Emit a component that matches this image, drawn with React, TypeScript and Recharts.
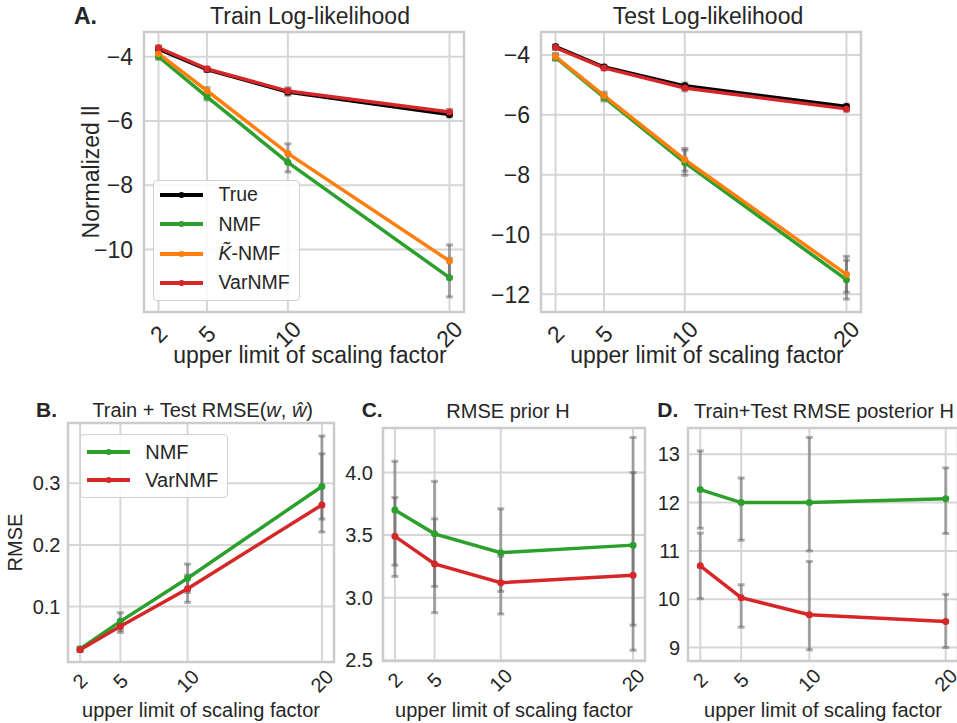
import React from 'react';
import { LineChart, Line, XAxis, YAxis, CartesianGrid, ErrorBar, ReferenceArea, Legend, Label } from 'recharts';

const FONT = '"Liberation Sans", Arial, Helvetica, sans-serif';
const TXT = '#262626';
const GRID = '#d6d6d6';
const SPINE = '#cccccc';
const C_TRUE = '#000000';
const C_NMF = '#2ca02c';
const C_K = '#ff7f0e';
const C_VAR = '#d62728';

// x categories (upper limit of scaling factor)
const xs = [2, 5, 10, 20];

// A. Train log-likelihood
const trainTrue = [-3.76, -4.4, -5.1, -5.8];
const trainNMF = [-4.0, -5.25, -7.29, -10.88];
const trainKNMF = [-3.9, -5.06, -7.01, -10.36];
const trainVar = [-3.72, -4.38, -5.07, -5.72];
const trainTrueErr = [0.06, 0.06, 0.1, 0.08];
const trainNMFErr = [0.08, 0.1, 0.3, 0.6];
const trainKNMFErr = [0.08, 0.1, 0.3, 0.5];
const trainVarErr = [0.06, 0.06, 0.1, 0.08];

// A. Test log-likelihood
const testTrue = [-3.72, -4.4, -5.03, -5.72];
const testNMF = [-4.08, -5.42, -7.6, -11.51];
const testKNMF = [-4.05, -5.36, -7.5, -11.33];
const testVar = [-3.75, -4.43, -5.1, -5.8];
const testTrueErr = [0.06, 0.06, 0.1, 0.08];
const testNMFErr = [0.1, 0.12, 0.42, 0.65];
const testKNMFErr = [0.1, 0.12, 0.38, 0.6];
const testVarErr = [0.06, 0.06, 0.1, 0.08];

// B. RMSE(w, w-hat)
const rmseWNMF = [0.031, 0.076, 0.146, 0.295];
const rmseWNMFLo = [0.003, 0.014, 0.023, 0.053];
const rmseWNMFHi = [0.003, 0.014, 0.023, 0.053];
const rmseWVar = [0.03, 0.068, 0.129, 0.265];
const rmseWVarLo = [0.003, 0.01, 0.022, 0.044];
const rmseWVarHi = [0.003, 0.01, 0.022, 0.112];

// C. RMSE prior H
const priorNMF = [3.7, 3.51, 3.36, 3.42];
const priorNMFLo = [0.44, 0.42, 0.31, 0.84];
const priorNMFHi = [0.39, 0.42, 0.35, 0.86];
const priorVar = [3.49, 3.27, 3.12, 3.18];
const priorVarLo = [0.32, 0.39, 0.25, 0.4];
const priorVarHi = [0.31, 0.36, 0.21, 0.82];

// D. RMSE posterior H
const postNMF = [12.27, 12.0, 12.0, 12.08];
const postNMFLo = [0.8, 0.78, 1.0, 0.72];
const postNMFHi = [0.8, 0.51, 1.35, 0.64];
const postVar = [10.69, 10.03, 9.68, 9.54];
const postVarLo = [0.68, 0.61, 0.73, 0.54];
const postVarHi = [0.68, 0.27, 1.1, 0.56];

// tick labels
const ticksA1 = [-10, -8, -6, -4];
const ticksA2 = [-12, -10, -8, -6, -4];
const ticksB = [0.1, 0.2, 0.3];
const ticksC = [2.5, 3.0, 3.5, 4.0];
const ticksD = [9, 10, 11, 12, 13];

type S = { key: string; label: React.ReactNode; color: string; values: number[]; lo: number[]; hi: number[] };

const kLabel = (
  <span>
    <span style={{ fontStyle: 'italic' }}>{'K\u0303'}</span>-NMF
  </span>
);

const buildRows = (series: S[]) =>
  xs.map((x, i) => {
    const row: any = { x };
    series.forEach((s) => {
      row[s.key] = s.values[i];
      row[s.key + 'Err'] = [s.lo[i], s.hi[i]];
    });
    return row;
  });

const minus = (v: number) => String(v).replace('-', '\u2212');

type PanelProps = {
  left: number; top: number; yw: number; pw: number; mr: number; mt: number; ph: number; xh: number;
  yDomain: [number, number]; yTicks: number[]; fmt: (v: number) => string; fs: number; yMargin: number;
  series: S[]; xTickOff: number; xLabelDy: number; xLabelDx: number;
  yLabel?: string; yLabelX?: number;
  legend?: { left: number; top: number; w: number; h: number; fs: number; rowH: number; padT: number; padL: number; sw: number; gap: number };
};

const Panel = (p: PanelProps) => {
  const rows = buildRows(p.series);
  const width = p.yw + p.pw + p.mr;
  const height = p.mt + p.ph + p.xh;
  const XTick = (props: any) => {
    const { x, y, payload } = props;
    const cy = y + p.xTickOff;
    return (
      <text x={x} y={cy} textAnchor="middle" dominantBaseline="central" fontSize={p.fs} fill={TXT}
        transform={`rotate(-45 ${x} ${cy})`}>{payload.value}</text>
    );
  };
  const XLab = (props: any) => {
    const vb = props.viewBox || {};
    return (
      <text x={vb.x + vb.width / 2 + p.xLabelDx} y={vb.y + p.xLabelDy} textAnchor="middle" fontSize={p.fs} fill={TXT}>
        upper limit of scaling factor
      </text>
    );
  };
  const YLab = (props: any) => {
    const vb = props.viewBox || {};
    const cx = p.yLabelX || 0;
    const cy = vb.y + vb.height / 2;
    return (
      <text x={cx} y={cy} textAnchor="middle" dominantBaseline="central" fontSize={p.fs} fill={TXT}
        transform={`rotate(-90 ${cx} ${cy})`}>{p.yLabel}</text>
    );
  };
  const lg = p.legend;
  const legendContent = () =>
    lg ? (
      <div style={{
        width: lg.w, height: lg.h, boxSizing: 'border-box', background: 'rgba(255,255,255,0.85)',
        border: '1.5px solid #d0d0d0', borderRadius: 4, paddingTop: lg.padT, fontFamily: FONT,
      }}>
        {p.series.map((s) => (
          <div key={s.key} style={{ display: 'flex', alignItems: 'center', height: lg.rowH }}>
            <svg width={lg.sw} height={10} style={{ marginLeft: lg.padL, marginRight: lg.gap, flex: 'none' }}>
              <line x1={0} y1={5} x2={lg.sw} y2={5} stroke={s.color} strokeWidth={4} />
              <circle cx={lg.sw / 2} cy={5} r={3} fill={s.color} />
            </svg>
            <span style={{ fontSize: lg.fs, color: TXT, lineHeight: 1, whiteSpace: 'nowrap' }}>{s.label}</span>
          </div>
        ))}
      </div>
    ) : null;

  return (
    <div style={{ position: 'absolute', left: p.left, top: p.top }}>
      <LineChart width={width} height={height} data={rows} margin={{ top: p.mt, right: p.mr, bottom: 0, left: 0 }}>
        <CartesianGrid stroke={GRID} strokeWidth={2} />
        <ReferenceArea x1={1.1} x2={20.9} y1={p.yDomain[0]} y2={p.yDomain[1]} fill="none" stroke={SPINE}
          strokeWidth={2.5} ifOverflow="visible" />
        <XAxis type="number" dataKey="x" domain={[1.1, 20.9]} ticks={xs} allowDataOverflow axisLine={false}
          tickLine={false} tickSize={0} tickMargin={0} height={p.xh} tick={XTick} interval={0}>
          <Label content={XLab} />
        </XAxis>
        <YAxis type="number" domain={p.yDomain} ticks={p.yTicks} allowDataOverflow axisLine={false} tickLine={false}
          tickSize={0} tickMargin={p.yMargin} width={p.yw} tick={{ fill: TXT, fontSize: p.fs }}
          tickFormatter={p.fmt} interval={0}>
          {p.yLabel ? <Label content={YLab} /> : null}
        </YAxis>
        {p.series.map((s) => (
          <Line key={s.key} type="linear" dataKey={s.key} name={s.key} stroke={s.color} strokeWidth={3.5}
            dot={{ r: 3.5, fill: s.color, stroke: s.color, strokeWidth: 0 }} activeDot={false}
            isAnimationActive={false}>
            <ErrorBar dataKey={s.key + 'Err'} direction="y" stroke="#555555" strokeOpacity={0.45}
              strokeWidth={3} width={3.5} />
          </Line>
        ))}
        {lg ? (
          <Legend layout="vertical" align="center" verticalAlign="middle" content={legendContent}
            wrapperStyle={{ left: lg.left, top: lg.top, width: lg.w, height: lg.h }} />
        ) : null}
      </LineChart>
    </div>
  );
};

const seriesA = (t: number[], n: number[], k: number[], v: number[], te: number[], ne: number[], ke: number[], ve: number[]): S[] => [
  { key: 'tru', label: 'True', color: C_TRUE, values: t, lo: te, hi: te },
  { key: 'nmf', label: 'NMF', color: C_NMF, values: n, lo: ne, hi: ne },
  { key: 'knmf', label: kLabel, color: C_K, values: k, lo: ke, hi: ke },
  { key: 'var', label: 'VarNMF', color: C_VAR, values: v, lo: ve, hi: ve },
];

const seriesBCD = (n: number[], nl: number[], nh: number[], v: number[], vl: number[], vh: number[]): S[] => [
  { key: 'nmf', label: 'NMF', color: C_NMF, values: n, lo: nl, hi: nh },
  { key: 'var', label: 'VarNMF', color: C_VAR, values: v, lo: vl, hi: vh },
];

export default function App() {
  const fmt1 = (v: number) => v.toFixed(1);
  const fmtI = (v: number) => String(v);
  return (
    <div style={{ position: 'absolute', left: 0, top: 0, width: 957, height: 723, overflow: 'hidden', background: '#ffffff', fontFamily: FONT }}>
      <Panel left={0} top={0} yw={144} pw={320} mr={10} mt={32} ph={280} xh={60}
        yDomain={[-11.95, -3.23]} yTicks={ticksA1} fmt={minus} fs={23} yMargin={11}
        series={seriesA(trainTrue, trainNMF, trainKNMF, trainVar, trainTrueErr, trainNMFErr, trainKNMFErr, trainVarErr)}
        xTickOff={22} xLabelDy={51} xLabelDx={6} yLabel="Normalized ll" yLabelX={91}
        legend={{ left: 153, top: 179.5, w: 147, h: 121, fs: 19.5, rowH: 29.3, padT: 0, padL: 5.5, sw: 43, gap: 16 }} />
      <Panel left={480} top={0} yw={61} pw={320} mr={10} mt={32} ph={280} xh={60}
        yDomain={[-12.59, -3.23]} yTicks={ticksA2} fmt={minus} fs={23} yMargin={11}
        series={seriesA(testTrue, testNMF, testKNMF, testVar, testTrueErr, testNMFErr, testKNMFErr, testVarErr)}
        xTickOff={22} xLabelDy={51} xLabelDx={6} />
      <Panel left={0} top={395} yw={68} pw={266} mr={6} mt={28} ph={239} xh={60}
        yDomain={[0.01, 0.398]} yTicks={ticksB} fmt={fmt1} fs={20} yMargin={7.5}
        series={seriesBCD(rmseWNMF, rmseWNMFLo, rmseWNMFHi, rmseWVar, rmseWVarLo, rmseWVarHi)}
        xTickOff={19} xLabelDy={55} xLabelDx={0} yLabel="RMSE" yLabelX={15}
        legend={{ left: 80, top: 39.3, w: 148, h: 63.4, fs: 20, rowH: 28.3, padT: 2.5, padL: 5.8, sw: 43.4, gap: 15 }} />
      <Panel left={330} top={395} yw={53} pw={262} mr={5} mt={33} ph={233} xh={61}
        yDomain={[2.494, 4.356]} yTicks={ticksC} fmt={fmt1} fs={20} yMargin={10}
        series={seriesBCD(priorNMF, priorNMFLo, priorNMFHi, priorVar, priorVarLo, priorVarHi)}
        xTickOff={19} xLabelDy={56} xLabelDx={0} />
      <Panel left={645} top={395} yw={43} pw={270} mr={0} mt={33} ph={233} xh={61}
        yDomain={[8.72, 13.545]} yTicks={ticksD} fmt={fmtI} fs={20} yMargin={8}
        series={seriesBCD(postNMF, postNMFLo, postNMFHi, postVar, postVarLo, postVarHi)}
        xTickOff={19} xLabelDy={56} xLabelDx={0} />
      <svg width={957} height={723} style={{ position: 'absolute', left: 0, top: 0, pointerEvents: 'none' }}>
        <g fill={TXT} fontFamily={FONT}>
          <text x={74} y={24} fontSize={23} fontWeight="bold">A.</text>
          <text x={310} y={24} fontSize={23} textAnchor="middle">Train Log-likelihood</text>
          <text x={708} y={24} fontSize={23} textAnchor="middle">Test Log-likelihood</text>
          <text x={36} y={417} fontSize={21} fontWeight="bold">B.</text>
          <text x={202.7} y={417} fontSize={20} textAnchor="middle">
            Train + Test RMSE(<tspan fontStyle="italic">w</tspan>, <tspan fontStyle="italic">{'\u0175'}</tspan>)
          </text>
          <text x={361.7} y={417} fontSize={21} fontWeight="bold">C.</text>
          <text x={508} y={418} fontSize={20} textAnchor="middle">RMSE prior H</text>
          <text x={657.3} y={417} fontSize={21} fontWeight="bold">D.</text>
          <text x={824} y={418} fontSize={20} textAnchor="middle">Train+Test RMSE posterior H</text>
        </g>
      </svg>
    </div>
  );
}
